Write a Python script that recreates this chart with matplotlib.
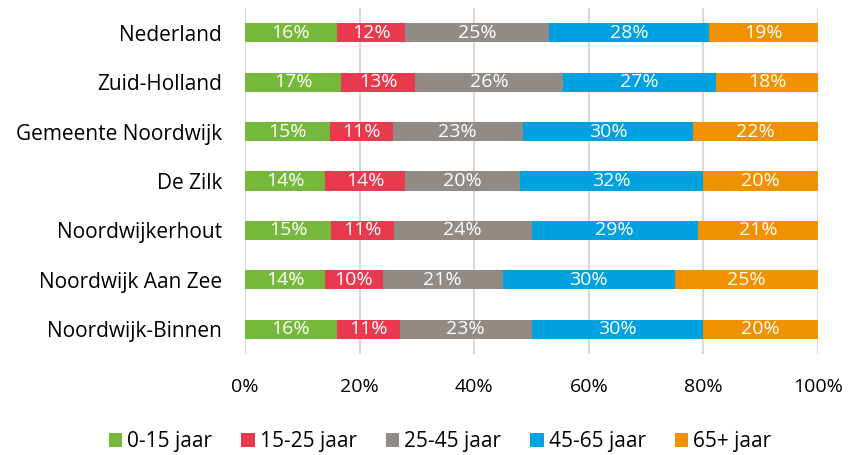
import matplotlib.pyplot as plt
import numpy as np

plt.rcParams['font.family'] = ['Open Sans', 'DejaVu Sans']

regions = ['Nederland', 'Zuid-Holland', 'Gemeente Noordwijk', 'De Zilk',
           'Noordwijkerhout', 'Noordwijk Aan Zee', 'Noordwijk-Binnen']
groups = ['0-15 jaar', '15-25 jaar', '25-45 jaar', '45-65 jaar', '65+ jaar']
colors = ['#76B83B', '#E8394F', '#918A85', '#00A1E1', '#F29100']

age_0_15 = [16, 17, 15, 14, 15, 14, 16]
age_15_25 = [12, 13, 11, 14, 11, 10, 11]
age_25_45 = [25, 26, 23, 20, 24, 21, 23]
age_45_65 = [28, 27, 30, 32, 29, 30, 30]
age_65p = [19, 18, 22, 20, 21, 25, 20]

data = np.array([age_0_15, age_15_25, age_25_45, age_45_65, age_65p], dtype=float)
shares = data / data.sum(axis=0)

fig = plt.figure(figsize=(8.48, 4.55), dpi=100)
ax = fig.add_axes([245 / 848, 1 - 354 / 455, 573 / 848, 346 / 455])

y = np.arange(len(regions))
left = np.zeros(len(regions))
for i, g in enumerate(groups):
    ax.barh(y, shares[i], left=left, height=0.39, color=colors[i], label=g,
            zorder=2)
    for j in range(len(regions)):
        ax.text(left[j] + shares[i][j] / 2, y[j], '%d%%' % data[i][j],
                ha='center', va='center', color='white', fontsize=14, zorder=3)
    left += shares[i]

ax.set_xlim(0, 1)
ax.set_ylim(len(regions) - 0.5, -0.5)
ax.set_yticks(y)
ax.set_yticklabels(regions, fontsize=15)
ax.set_xticks(np.linspace(0, 1, 6))
ax.set_xticklabels(['0%', '20%', '40%', '60%', '80%', '100%'], fontsize=14)
ax.tick_params(length=0)
ax.tick_params(axis='x', pad=17)
ax.tick_params(axis='y', pad=16.5)
ax.grid(axis='x', color='#D9D9D9', linewidth=1.5, zorder=0)
for s in ax.spines.values():
    s.set_visible(False)

fig.legend(loc='center', bbox_to_anchor=(0.519, 1 - 442 / 455), ncol=5,
           frameon=False, fontsize=15, handlelength=0.63, handleheight=0.63,
           handletextpad=0.25, columnspacing=1.4)

fig.savefig('out.png')
